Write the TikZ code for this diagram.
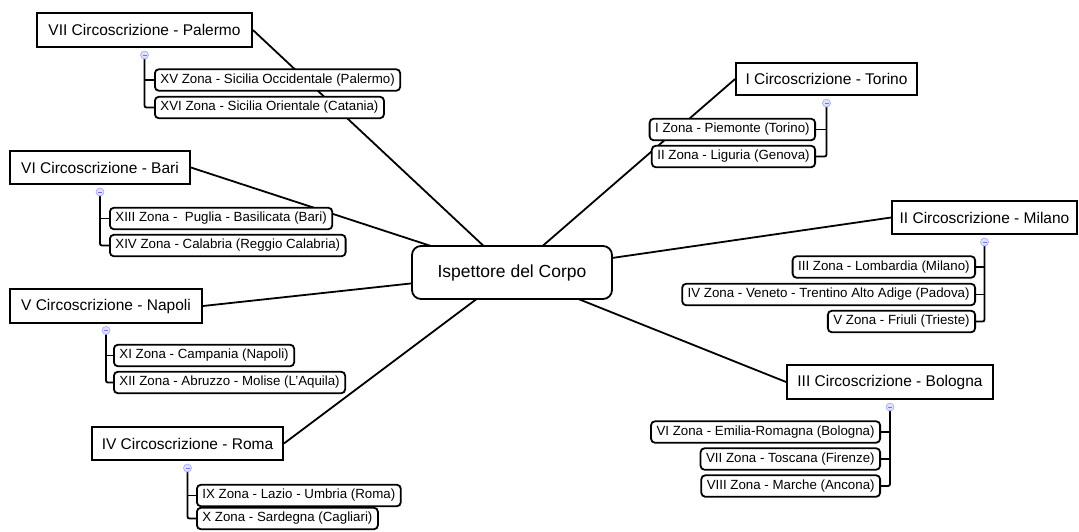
\documentclass[tikz,border=0pt]{standalone}
\usepackage{fontspec}
\setmainfont{Liberation Sans}
\usetikzlibrary{backgrounds}
\begin{document}
\begin{tikzpicture}[x=1pt,y=-1pt,
 circ/.style={draw=black, line width=1.8pt, fill=white, inner sep=0pt, font=\fontsize{15.5}{18}\selectfont},
 zone/.style={draw=black, line width=1.8pt, rounded corners=4pt, fill=white, inner xsep=5.5pt, inner ysep=0pt, minimum height=21.5pt, font=\fontsize{13.3}{16}\selectfont},
 root/.style={draw=black, line width=1.8pt, rounded corners=9pt, fill=white, minimum width=200pt, minimum height=53pt, font=\fontsize{17.5}{20}\selectfont},
 link/.style={line width=1.8pt},
 brk/.style={line width=1.8pt, rounded corners=2pt},
 tog/.style={circle, draw=blue!35, fill=blue!12, line width=0.6pt, minimum size=8pt, inner sep=0pt,
   path picture={\draw[blue!55,line width=0.5pt] ([xshift=-2pt]path picture bounding box.center) -- ([xshift=2pt]path picture bounding box.center);}}
]
\useasboundingbox (0,0) rectangle (1079,531);

% central node
\node[root] (c) at (512,272.5) {Ispettore del Corpo};

% Palermo
\node[circ, minimum width=215pt, minimum height=34pt] (pal) at (144.5,30) {VII Circoscrizione - Palermo};
\node[zone, anchor=west] (z15) at (154,80) {XV Zona - Sicilia Occidentale (Palermo)};
\node[zone, anchor=west] (z16) at (154,107.5) {XVI Zona - Sicilia Orientale (Catania)};

% Bari
\node[circ, minimum width=180pt, minimum height=33pt] (bar) at (100,167.5) {VI Circoscrizione - Bari};
\node[zone, anchor=west] (z13) at (109,218.5) {XIII Zona -\ \ Puglia - Basilicata (Bari)};
\node[zone, anchor=west] (z14) at (109,245.5) {XIV Zona - Calabria (Reggio Calabria)};

% Napoli
\node[circ, minimum width=192pt, minimum height=34pt] (nap) at (106,306) {V Circoscrizione - Napoli};
\node[zone, anchor=west] (z11) at (113,355.5) {XI Zona - Campania (Napoli)};
\node[zone, anchor=west] (z12) at (113,382.5) {XII Zona - Abruzzo - Molise (L'Aquila)};

% Roma
\node[circ, minimum width=191pt, minimum height=33pt] (rom) at (187.5,443.5) {IV Circoscrizione - Roma};
\node[zone, anchor=west] (z9) at (196,495.5) {IX Zona - Lazio - Umbria (Roma)};
\node[zone, anchor=west] (z10) at (196,518.5) {X Zona - Sardegna (Cagliari)};

% Torino
\node[circ, minimum width=181pt, minimum height=32pt] (tor) at (826.5,79) {I Circoscrizione - Torino};
\node[zone, anchor=east] (z1) at (816,129.5) {I Zona - Piemonte (Torino)};
\node[zone, anchor=east] (z2) at (816,156.5) {II Zona - Liguria (Genova)};

% Milano
\node[circ, minimum width=185pt, minimum height=33pt] (mil) at (984.5,217.5) {II Circoscrizione - Milano};
\node[zone, anchor=east] (z3) at (976,267) {III Zona - Lombardia (Milano)};
\node[zone, anchor=east] (z4) at (976,294.5) {IV Zona - Veneto - Trentino Alto Adige (Padova)};
\node[zone, anchor=east] (z5) at (976,321.5) {V Zona - Friuli (Trieste)};

% Bologna
\node[circ, minimum width=206pt, minimum height=34pt] (bol) at (890,382) {III Circoscrizione - Bologna};
\node[zone, anchor=east] (z6) at (881,432) {VI Zona - Emilia-Romagna (Bologna)};
\node[zone, anchor=east] (z7) at (881,459) {VII Zona - Toscana (Firenze)};
\node[zone, anchor=east] (z8) at (881,486) {VIII Zona - Marche (Ancona)};

% toggles
\node[tog] (tpal) at (144.5,55) {};
\node[tog] (tbar) at (100,192) {};
\node[tog] (tnap) at (106,330.5) {};
\node[tog] (trom) at (187.5,468) {};
\node[tog] (ttor) at (826.5,103) {};
\node[tog] (tmil) at (984.5,242) {};
\node[tog] (tbol) at (890,407) {};

\begin{scope}[on background layer]
 % connectors to centre
 \draw[link] (pal.east) -- (c.center);
 \draw[link] (bar.east) -- (c.center);
 \draw[link] (nap.east) -- (c.center);
 \draw[link] (rom.east) -- (c.center);
 \draw[link] (tor.west) -- (c.center);
 \draw[link] (mil.west) -- (c.center);
 \draw[link] (bol.west) -- (c.center);
 % brackets
 \draw[brk] (tpal.center) |- (z16.west);
 \draw[link] (tpal.center |- z15.west) -- (z15.west);
 \draw[brk] (tbar.center) |- (z14.west);
 \draw[link] (tbar.center |- z13.west) -- (z13.west);
 \draw[brk] (tnap.center) |- (z12.west);
 \draw[link] (tnap.center |- z11.west) -- (z11.west);
 \draw[brk] (trom.center) |- (z10.west);
 \draw[link] (trom.center |- z9.west) -- (z9.west);
 \draw[brk] (ttor.center) |- (z2.east);
 \draw[link] (ttor.center |- z1.east) -- (z1.east);
 \draw[brk] (tmil.center) |- (z5.east);
 \draw[link] (tmil.center |- z3.east) -- (z3.east);
 \draw[link] (tmil.center |- z4.east) -- (z4.east);
 \draw[brk] (tbol.center) |- (z8.east);
 \draw[link] (tbol.center |- z6.east) -- (z6.east);
 \draw[link] (tbol.center |- z7.east) -- (z7.east);
\end{scope}
\end{tikzpicture}
\end{document}
